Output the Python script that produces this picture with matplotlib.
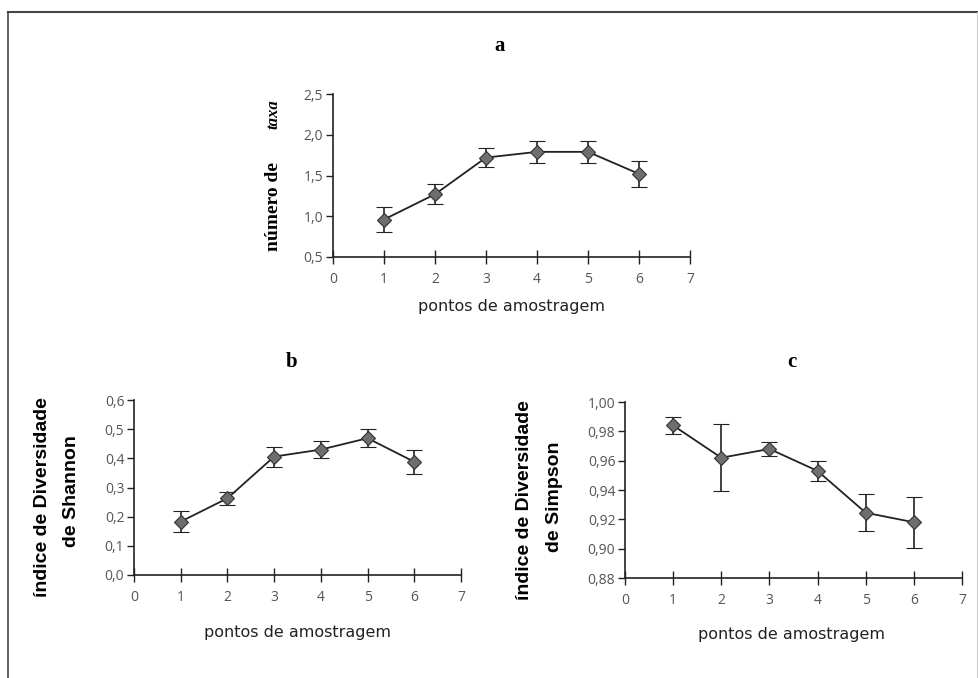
import matplotlib
matplotlib.use("Agg")
import matplotlib.pyplot as plt
from matplotlib.lines import Line2D
from matplotlib.ticker import FixedLocator

# pontos de amostragem
pontos = [1, 2, 3, 4, 5, 6]

# a - número de taxa
taxa_media = [0.96, 1.27, 1.72, 1.79, 1.79, 1.52]
taxa_erro = [0.15, 0.125, 0.12, 0.135, 0.135, 0.155]

# b - índice de Shannon
shannon_media = [0.183, 0.263, 0.406, 0.430, 0.469, 0.388]
shannon_erro = [0.037, 0.023, 0.034, 0.028, 0.031, 0.041]

# c - índice de Simpson
simpson_media = [0.984, 0.962, 0.968, 0.953, 0.9245, 0.918]
simpson_erro = [0.0055, 0.023, 0.005, 0.007, 0.0125, 0.0175]

tick_font = dict(family=["Open Sans", "DejaVu Sans"], size=10, color="#555555")
lab_font = ["Liberation Sans Narrow", "Liberation Sans", "DejaVu Sans"]


# desenha um painel
def painel(fig, rect, medias, erros, yticks, yfmt):
    ax = fig.add_axes(rect)
    ax.errorbar(pontos, medias, yerr=erros, color="#222222", lw=1.3,
                marker="D", ms=7, mfc="#6e6e6e", mec="#333333", mew=0.8,
                ecolor="#222222", elinewidth=1.2, capsize=6, capthick=1.2)
    ax.set_xlim(0, 7)
    ax.set_ylim(yticks[0], yticks[-1])
    ax.yaxis.set_major_locator(FixedLocator(yticks))
    ax.set_yticklabels([yfmt.format(v).replace(".", ",") for v in yticks], fontdict=tick_font)
    ax.set_xticks(range(8))
    ax.set_xticklabels([str(i) for i in range(8)], fontdict=tick_font)
    for s in ["top", "right"]:
        ax.spines[s].set_visible(False)
    for s in ["left", "bottom"]:
        ax.spines[s].set_linewidth(1.2)
        ax.spines[s].set_color("#222222")
    ax.tick_params(axis="x", direction="inout", length=10, width=1, color="#222222", pad=6)
    ax.tick_params(axis="y", direction="out", length=5, width=1, color="#222222", pad=2)
    ax.patch.set_alpha(0)
    return ax


fig = plt.figure(figsize=(9.79, 6.78), dpi=100)
W, H = 979.0, 678.0


def r(x0, y0, x1, y1):
    return [x0 / W, 1 - y1 / H, (x1 - x0) / W, (y1 - y0) / H]


# moldura
fig.add_artist(Line2D([8 / W, 8 / W], [0, 1 - 12 / H], color="#444444", lw=1.2))
fig.add_artist(Line2D([8 / W, 978 / W], [1 - 12 / H, 1 - 12 / H], color="#444444", lw=1.5))
fig.add_artist(Line2D([977 / W, 977 / W], [0, 1 - 12 / H], color="#cccccc", lw=0.8))

axa = painel(fig, r(333, 94, 690, 257), taxa_media, taxa_erro,
             [0.5, 1.0, 1.5, 2.0, 2.5], "{:.1f}")
axb = painel(fig, r(134, 400, 461, 575), shannon_media, shannon_erro,
             [0.0, 0.1, 0.2, 0.3, 0.4, 0.5, 0.6], "{:.1f}")
axc = painel(fig, r(625, 402, 962, 578), simpson_media, simpson_erro,
             [0.88, 0.90, 0.92, 0.94, 0.96, 0.98, 1.00], "{:.2f}")

# títulos
for txt, x, y in [("a", 500, 46), ("b", 292, 362), ("c", 792, 362)]:
    fig.text(x / W, 1 - y / H, txt, ha="center", va="center", fontsize=15,
             fontweight="bold", family=["Liberation Serif", "DejaVu Serif"])

# rótulos x
for x, y in [(512, 306), (297, 632), (792, 635)]:
    fig.text(x / W, 1 - y / H, "pontos de amostragem", ha="center", va="center",
             fontsize=11.5, color="#222222", family=["DejaVu Sans"])

# rótulos y
fig.text(273 / W, 1 - 207 / H, "número de", rotation=90, ha="center", va="center",
         fontsize=14, fontweight="bold", family=["Liberation Serif", "DejaVu Serif"])
fig.text(273 / W, 1 - 114 / H, "taxa", rotation=90, ha="center", va="center",
         fontsize=12, fontweight="bold", style="italic", family=["Liberation Serif", "DejaVu Serif"])

fig.text(43 / W, 1 - 497 / H, "índice de Diversidade", rotation=90, ha="center", va="center",
         fontsize=14, fontweight="bold", family=lab_font)
fig.text(72 / W, 1 - 491 / H, "de Shannon", rotation=90, ha="center", va="center",
         fontsize=14, fontweight="bold", family=lab_font)

fig.text(525 / W, 1 - 500 / H, "índice de Diversidade", rotation=90, ha="center", va="center",
         fontsize=14, fontweight="bold", family=lab_font)
fig.text(555 / W, 1 - 497 / H, "de Simpson", rotation=90, ha="center", va="center",
         fontsize=14, fontweight="bold", family=lab_font)

fig.savefig("out.png", dpi=100, facecolor="white")
